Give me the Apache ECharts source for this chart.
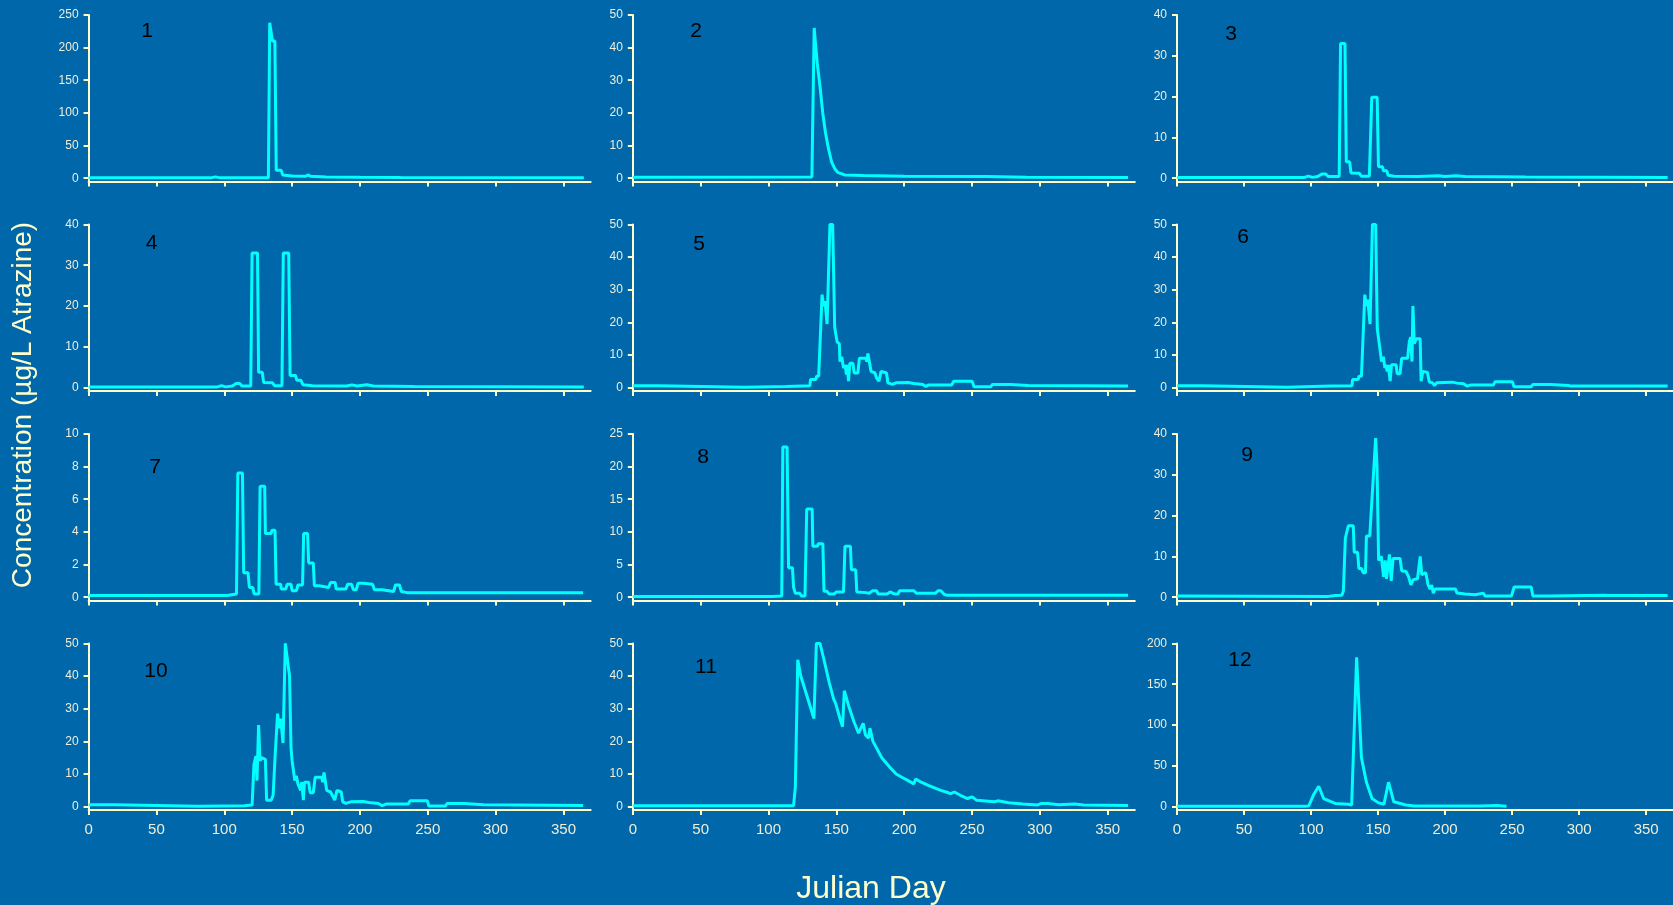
<!DOCTYPE html>
<html><head><meta charset="utf-8">
<script src="https://cdn.jsdelivr.net/npm/echarts@6/dist/echarts.min.js"></script>
<style>html,body{margin:0;padding:0;background:#0067AA;overflow:hidden}#c{width:1673px;height:905px}</style>
</head><body><div id="c"></div>
<script>
// ---- data (Julian day, concentration µg/L) ----
const panelLabels = ['1','2','3','4','5','6','7','8','9','10','11','12'];
const yMaxes = [250,50,40,40,50,50,10,25,40,50,50,200];
const ySteps = [50,10,10,10,10,10,2,5,10,10,10,50];
const xTicks = [0,50,100,150,200,250,300,350];
const xTitle = 'Julian Day';
const yTitle = 'Concentration (µg/L Atrazine)';

const p1 = [[0,0.5],[90,0.5],[93.5,2],[97,0.5],[132.5,0.8],[133.5,238],[135.5,210],[137.3,210],[138.3,12],[142,12],[143,5],[150,3.5],[160,3],[162,5],[163.5,3],[175,2],[200,1.5],[230,1],[365,0.5]];
const p2 = [[0,0.3],[132,0.4],[133.7,46],[134.5,42],[136,35],[138,28],[140,20],[142,14],[144,9.5],[146.5,5],[149,2.8],[151,1.8],[156,1],[170,0.8],[200,0.6],[260,0.5],[290,0.3],[365,0.2]];
const p3 = [[0,0.2],[95,0.2],[98,0.5],[101,0.2],[105,0.4],[108,1],[111,1],[113,0.4],[121,0.4],[122,33],[125.3,33],[126.3,4],[128.8,4],[129.8,1.3],[136,1.2],[137.5,0.5],[143.5,0.5],[145.3,19.8],[149.3,19.8],[150.3,2.8],[153.3,2.8],[154,1.8],[156.5,1.8],[157.5,0.7],[162,0.5],[180,0.4],[195,0.6],[200,0.4],[208,0.6],[215,0.4],[260,0.3],[366,0.2]];
const p4 = [[0,0.2],[95,0.2],[98,0.5],[101,0.2],[106,0.4],[108.5,1],[111.5,1],[113,0.4],[119.5,0.4],[120.5,33],[124.5,33],[125.3,3.8],[128,3.8],[129,1.3],[135.5,1.2],[137,0.5],[142.5,0.5],[143.5,33],[147.5,33],[148.5,3],[152.5,3],[153.5,1.8],[156.5,1.8],[158,0.7],[165,0.5],[190,0.4],[194,0.7],[198,0.4],[205,0.7],[210,0.4],[240,0.3],[365,0.2]];
const p5 = [[0,0.6],[19,0.6],[19.5,0.1],[82,0.1],[83,0.3],[113,0.4],[130.5,0.6],[131,2.5],[134.8,2.5],[135.5,3.5],[137,3.5],[139.5,28.5],[140.6,25],[141.7,26.5],[143.2,19.5],[145.3,50],[147.3,50],[148.8,18.5],[150.6,14],[152.2,13.5],[152.7,8],[154,9.5],[155.3,6],[156.4,7],[157.5,4],[158,7],[159,2],[160,7.5],[162.2,7.5],[163.2,4.5],[165.9,4.5],[167,9],[171.7,9],[172.5,8],[173.3,10.5],[175.6,5],[178.5,4.5],[179.6,3],[181.4,2],[183,5],[187,4.5],[188,1.5],[191.4,1],[192.2,0.5],[194,1.5],[203,1.6],[207,1.3],[213.8,1],[216,0.4],[217.8,0.8],[234.9,0.8],[236.7,2],[250.1,2],[251.5,0.3],[263.8,0.3],[265.1,1],[278.3,1],[279.6,0.7],[291.5,0.7],[292.8,0.5],[365,0.5]];
const p6 = [[0,0.6],[19,0.6],[19.5,0.1],[82,0.1],[83,0.3],[115,0.5],[130.5,0.6],[131,2.5],[135.2,2.5],[135.7,3.5],[137.6,3.5],[140.1,28.5],[141.3,25],[142.3,27],[144,19.5],[145.8,50],[148.2,50],[149.4,18],[150.7,14],[151.9,14],[152.6,8],[153.9,9.5],[155.1,6],[155.8,7],[156.8,5],[157.6,7],[159,2],[160,7],[163.5,7],[164.2,4.3],[166.4,4.3],[167.6,9],[172,9],[173.3,14],[174.3,15.5],[175.3,8],[176,25],[177,13.5],[178.5,15],[181.4,15],[182.1,2],[183.4,5],[186.8,4.7],[188.3,1.7],[190.5,1.5],[192.2,0.7],[193.7,1.5],[205.2,1.7],[209,1.4],[213.8,1.2],[216.3,0.5],[218.8,0.8],[236,0.8],[237.2,1.8],[250.2,1.8],[251.4,0.3],[264.2,0.3],[265.5,1],[278.5,1],[279.7,0.7],[292,0.7],[293.5,0.5],[366,0.5]];
const p7 = [[0,0.1],[102,0.1],[109,0.2],[110,7.6],[113.4,7.6],[114.3,1.5],[117.5,1.5],[118.5,0.6],[121,0.6],[122,0.2],[125.5,0.2],[126.4,6.8],[129.8,6.8],[130.3,3.9],[134.6,3.9],[135.1,4.1],[137.4,4.1],[138.2,0.8],[141.6,0.8],[142,0.5],[145.3,0.5],[146.4,0.8],[149.2,0.8],[150,0.4],[153.2,0.4],[154.3,0.75],[157.7,0.75],[158.5,3.9],[161.4,3.9],[162.2,2.1],[165.6,2.1],[166.4,0.7],[169.8,0.7],[170.7,0.6],[176.9,0.6],[178.3,0.9],[181.7,0.9],[182.5,0.5],[189.6,0.5],[191,0.8],[193.8,0.8],[195.2,0.45],[197.2,0.45],[198.6,0.85],[202.3,0.85],[203.7,0.8],[209.3,0.8],[210.7,0.45],[216.4,0.45],[217.8,0.35],[224.8,0.35],[226.2,0.75],[229.1,0.75],[230.5,0.35],[234.7,0.28],[364.5,0.28]];
const p8 = [[0,0.1],[103,0.1],[109.8,0.2],[110.6,23],[113.7,23],[114.8,4.5],[117.7,4.5],[118.5,1.5],[119.8,0.6],[123,0.6],[124.3,0.2],[126.9,0.2],[128.2,13.5],[132.2,13.5],[132.7,7.8],[136.1,7.8],[136.7,8.2],[140.1,8.2],[140.9,0.9],[143.2,0.9],[144.6,0.5],[148.5,0.5],[150,0.8],[155.3,0.8],[156.4,7.8],[160.4,7.8],[161.1,4.2],[164.3,4.2],[165.1,0.8],[171.7,0.7],[174.3,0.6],[176.9,1],[179.6,1],[180.9,0.5],[187.5,0.5],[189.6,0.8],[192.7,0.5],[195.4,0.5],[196.7,1],[207.2,1],[209,0.6],[223,0.6],[225.1,1],[227,1],[229.6,0.4],[232,0.3],[365,0.3]];
const p9 = [[0,0.3],[113,0.2],[118,0.4],[123,0.5],[124.1,1.5],[125.6,14.5],[126.6,14.8],[127.8,17.5],[131.5,17.5],[132.2,11],[134.7,11],[135.7,7],[137.6,7],[138.9,6],[140.6,6],[141.3,15],[143.8,15],[148.2,39],[149.2,32],[150.4,9],[152.4,10],[154.1,5],[155.3,9],[156.3,4.5],[158.5,10.5],[159.8,4],[161.2,9.5],[166.4,9.5],[167.6,6.5],[170.8,6.3],[172.8,5],[174.5,3],[176.2,4.3],[179.4,4.5],[181.4,10],[182.6,5.5],[185.6,6],[187.3,3],[188.8,2],[190,3],[191.2,1],[192.5,2],[207.7,2],[208.9,1],[215,0.8],[216.3,0.4],[222.4,0.6],[223.7,1],[228.6,1],[229.8,0.3],[249.5,0.3],[251.5,2.5],[264.2,2.5],[265.5,0.3],[277.8,0.3],[279,0.5],[319.5,0.5],[321,0.4],[366,0.4]];
const p10 = [[0,0.6],[18.9,0.6],[19.5,0.1],[81,0.1],[82,0.3],[114.8,0.3],[120.5,0.5],[121.9,13],[123.3,15.5],[124.1,8],[125.3,25],[126.4,14],[127.5,15],[130.3,14.5],[131.2,2],[134.6,2],[136,3.5],[137.4,15],[139.3,28.5],[140.5,24],[141.6,27],[143.3,19.5],[145,50],[146.4,50],[148.1,40],[149.2,18],[150,14],[150.9,13.5],[152,8],[153.1,9.5],[154.3,7],[155.2,7.5],[156.3,5],[157.1,7.5],[158.3,2],[159.1,7.5],[162.2,7.5],[163.3,4.3],[165.6,4.3],[167,9],[171.8,9],[172.6,7.5],[173.5,10.5],[175.5,5],[178.3,4.5],[180.3,3],[181.4,2],[183.1,5],[186.2,4.5],[187.3,1.5],[189.6,1],[191,0.5],[193.2,1.5],[202.3,1.6],[206.5,1.3],[213.6,1],[216.4,0.3],[219.2,0.8],[235.6,0.8],[237,1.8],[249.7,1.8],[250.8,0.2],[262.9,0.2],[264.3,1],[277,1],[278.3,0.6],[291.1,0.6],[292.5,0.4],[364.5,0.4]];
const p11 = [[0,0.3],[118.5,0.3],[119.8,6],[121.6,45],[123.8,40],[133.5,27],[135.3,50],[138,50],[140.9,45],[144.8,38],[148,33],[149.6,31.5],[152.7,27],[154.6,24.5],[155.9,35.5],[159,31],[163,26],[166.4,22.5],[169.8,25.5],[171.5,22],[173.8,21],[174.8,24],[177,20],[179.6,18],[183.5,15],[189.6,12],[194.1,10],[200.6,8.5],[207.2,7],[208.5,8.5],[212.5,7.5],[217.8,6.5],[227,5],[230.9,4.5],[232.2,5],[234.3,4],[237,4.5],[241.4,3.5],[246.7,2.5],[250.1,3],[253.3,2],[266.5,1.5],[269.1,1.8],[277,1.2],[287.5,0.8],[298,0.5],[301.2,1],[306,1],[313.9,0.6],[325.7,0.8],[332.3,0.5],[365,0.4]];
const p12 = [[0,0.5],[95,0.5],[98.3,1],[102,15],[105.7,25],[109.4,10],[118,4],[127.8,3],[130.3,2],[134,183],[137.6,60],[141.3,30],[145.5,10],[150,5],[154.4,3],[157.8,30],[161.7,6],[170.8,2],[177,1],[226,1],[238.4,1.5],[245.8,0.5]];
const panels = [p1,p2,p3,p4,p5,p6,p7,p8,p9,p10,p11,p12];

// ---- layout ----
const LEFT0 = 88.6, COLSTEP = 544.2, TOP0 = 14.9, ROWSTEP = 209.5;
const PLOT_W = 502, ZERO_H = 163.3, BELOW = 0.0196;
const labelPos = [[147,31],[696,31],[1231,34],[151.5,243],[699,244],[1243,237],[155,467],[703,457],[1247,455],[156,671],[706,667],[1240,660]];
const AXIS_COL = '#FFFFC8', LABEL_COL = '#F0EED8', LINE_COL = '#00FFFF';
const FONT = '"Liberation Sans", Arial, Helvetica, sans-serif';

const grids = [], xAxes = [], yAxes = [], series = [], graphics = [];
panels.forEach((d, i) => {
  const r = Math.floor(i / 3), c = i % 3;
  grids.push({left: LEFT0 + c * COLSTEP, top: TOP0 + r * ROWSTEP, width: PLOT_W, height: ZERO_H * (1 + BELOW), containLabel: false});
  const yTicks = [];
  for (let v = 0; v <= yMaxes[i] + 1e-9; v += ySteps[i]) yTicks.push(v);
  xAxes.push({
    type: 'value', gridIndex: i, min: 0, max: 370,
    axisLine: {show: true, onZero: false, lineStyle: {color: AXIS_COL, width: 2}},
    axisTick: {show: true, inside: false, length: 5, customValues: xTicks, lineStyle: {color: AXIS_COL, width: 2}},
    axisLabel: {show: r === 3, customValues: xTicks, color: LABEL_COL, fontSize: 15, fontFamily: FONT, margin: 12},
    splitLine: {show: false}
  });
  yAxes.push({
    type: 'value', gridIndex: i, min: -yMaxes[i] * BELOW, max: yMaxes[i],
    axisLine: {show: true, onZero: false, lineStyle: {color: AXIS_COL, width: 2}},
    axisTick: {show: true, inside: false, length: 5, customValues: yTicks, lineStyle: {color: AXIS_COL, width: 2}},
    axisLabel: {show: true, customValues: yTicks, color: LABEL_COL, fontSize: 12, fontFamily: FONT, margin: 10},
    splitLine: {show: false}
  });
  series.push({
    type: 'line', xAxisIndex: i, yAxisIndex: i, data: d, showSymbol: false, symbol: 'none',
    lineStyle: {color: LINE_COL, width: 3}, clip: false, animation: false
  });
  graphics.push({type: 'text', x: labelPos[i][0], y: labelPos[i][1],
    style: {text: panelLabels[i], fill: '#000', font: '21px ' + FONT, align: 'center', verticalAlign: 'middle', textAlign: 'center', textVerticalAlign: 'middle'}});
});
graphics.push({type: 'text', x: 871, y: 889,
  style: {text: xTitle, fill: '#FFFFCC', font: '32px ' + FONT, align: 'center', verticalAlign: 'middle', textAlign: 'center', textVerticalAlign: 'middle'}});
graphics.push({type: 'text', x: 23.5, y: 405, rotation: Math.PI / 2,
  style: {text: yTitle, fill: '#FFFFCC', font: '28px ' + FONT, align: 'center', verticalAlign: 'middle', textAlign: 'center', textVerticalAlign: 'middle'}});

const chart = echarts.init(document.getElementById('c'), null, {renderer: 'canvas'});
chart.setOption({
  backgroundColor: '#0067AA',
  animation: false,
  grid: grids, xAxis: xAxes, yAxis: yAxes, series: series, graphic: graphics
});
</script></body></html>
